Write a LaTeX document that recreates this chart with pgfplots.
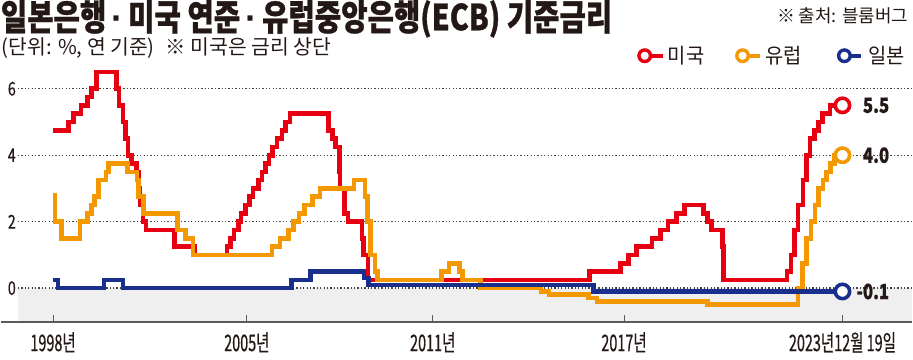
\documentclass[border=0pt]{standalone}
\usepackage{fontspec}
\usepackage{pgfplots}
\pgfplotsset{compat=1.18}
\setmainfont{Noto Sans CJK KR}
\newfontfamily\xfont[FakeStretch=0.63, FakeBold=0.5]{Noto Sans CJK KR}
\newfontfamily\yfont[FakeStretch=0.75, FakeBold=0.4]{Noto Sans CJK KR}
\newfontfamily\numfont[FakeStretch=0.8, BoldFeatures={FakeBold=0.6}]{Noto Sans CJK KR}
\newfontfamily\titlefont[FakeStretch=0.8, BoldFeatures={FakeBold=0.8}]{Noto Sans CJK KR}
\newfontfamily\legfont[FakeStretch=0.95]{Noto Sans CJK KR}
\newfontfamily\dotfont{Liberation Sans}
\definecolor{usred}{RGB}{230,0,18}
\definecolor{euorg}{RGB}{243,152,0}
\definecolor{jpblue}{RGB}{26,46,140}
\definecolor{txt}{RGB}{35,24,21}
\definecolor{bggray}{RGB}{239,239,239}
\definecolor{axgray}{RGB}{90,90,90}
\definecolor{gridc}{RGB}{70,70,70}
\newcommand{\tdot}{\hspace{5bp}{\dotfont\bfseries\symbol{"00B7}}\hspace{5bp}}
\begin{document}
\begin{tikzpicture}
\begin{axis}[
  set layers,
  at={(17.3bp,37.3bp)}, anchor=south west,
  scale only axis, width=895.7bp, height=253.6bp,
  xmin=1997.89, xmax=2026.18, ymin=-1.02, ymax=6.6,
  clip=false,
  axis line style={draw=none},
  xtick={1999,2005.13,2011.01,2017.06,2023.97},
  xticklabels={1998년,2005년,2011년,2017년,2023년12월 19일},
  ytick={0,2,4,6},
  yticklabels={0,2,4,6},
  xtick pos=bottom, ytick pos=left,
  tick align=inside, major tick length=7bp,
  xtick style={draw=axgray, line width=1bp},
  ytick style={draw=none},
  ymajorgrids,
  major grid style={draw=gridc, line width=1.3bp, dash pattern=on 1.3bp off 2.1bp},
  xticklabel style={font=\xfont\fontsize{23}{23}\selectfont, text=txt, inner sep=0pt, yshift=-10bp},
  yticklabel style={font=\yfont\fontsize{19}{19}\selectfont, text=txt, inner sep=0pt, xshift=-2bp},
  line join=miter,
]
\addplot[draw=none, fill=bggray, on layer=axis background] coordinates {(1997.89,-1.02) (2026.18,-1.02) (2026.18,0) (1997.89,0)} -- cycle;

% US Fed funds (upper bound)
\addplot[const plot, usred, line width=4.6bp] coordinates {
(1999.00,4.75) (1999.49,5.00) (1999.64,5.25) (1999.88,5.50) (2000.09,5.75)
(2000.22,6.00) (2000.37,6.50) (2001.01,6.00) (2001.08,5.50) (2001.21,5.00)
(2001.29,4.50) (2001.37,4.00) (2001.49,3.75) (2001.64,3.50) (2001.71,3.00)
(2001.75,2.50) (2001.85,2.00) (2001.94,1.75) (2002.85,1.25) (2003.48,1.00)
(2004.50,1.25) (2004.61,1.50) (2004.72,1.75) (2004.86,2.00) (2004.95,2.25)
(2005.09,2.50) (2005.22,2.75) (2005.33,3.00) (2005.50,3.25) (2005.61,3.50)
(2005.72,3.75) (2005.83,4.00) (2005.95,4.25) (2006.08,4.50) (2006.24,4.75)
(2006.36,5.00) (2006.49,5.25) (2007.71,4.75) (2007.83,4.50) (2007.94,4.25)
(2008.06,3.50) (2008.08,3.00) (2008.21,2.25) (2008.33,2.00) (2008.77,1.50)
(2008.82,1.00) (2008.96,0.25) (2015.96,0.50) (2016.95,0.75) (2017.20,1.00)
(2017.45,1.25) (2017.95,1.50) (2018.22,1.75) (2018.45,2.00) (2018.73,2.25)
(2018.97,2.50) (2019.58,2.25) (2019.71,2.00) (2019.83,1.75) (2020.17,1.25)
(2020.20,0.25) (2022.21,0.50) (2022.34,1.00) (2022.45,1.75) (2022.57,2.50)
(2022.72,3.25) (2022.84,4.00) (2022.95,4.50) (2023.09,4.75) (2023.22,5.00)
(2023.34,5.25) (2023.57,5.50) (2023.97,5.50)
};
% ECB deposit facility
\addplot[const plot, euorg, line width=4.6bp] coordinates {
(1999.00,2.80) (1999.06,2.00) (1999.27,1.50) (1999.85,2.00) (2000.09,2.25)
(2000.21,2.50) (2000.32,2.75) (2000.44,3.25) (2000.67,3.50) (2000.76,3.75)
(2001.36,3.50) (2001.66,3.25) (2001.71,2.75) (2001.86,2.25) (2002.93,1.75)
(2003.18,1.50) (2003.43,1.00) (2005.93,1.25) (2006.18,1.50) (2006.45,1.75)
(2006.61,2.00) (2006.78,2.25) (2006.95,2.50) (2007.20,2.75) (2007.45,3.00)
(2008.52,3.25) (2008.87,2.75) (2008.94,2.00) (2009.05,1.00) (2009.19,0.50)
(2009.27,0.25) (2011.28,0.50) (2011.53,0.75) (2011.86,0.50) (2011.95,0.25)
(2012.52,0.00) (2014.44,-0.10) (2014.69,-0.20) (2015.94,-0.30) (2016.21,-0.40)
(2019.71,-0.50) (2022.57,0.00) (2022.70,0.75) (2022.84,1.50) (2022.97,2.00)
(2023.10,2.50) (2023.22,3.00) (2023.36,3.25) (2023.47,3.50) (2023.59,3.75)
(2023.72,4.00) (2023.97,4.00)
};
% Bank of Japan
\addplot[const plot, jpblue, line width=4.6bp] coordinates {
(1999.00,0.25) (1999.15,0.00) (2000.61,0.25) (2001.21,0.00) (2006.54,0.25)
(2007.14,0.50) (2008.83,0.30) (2008.97,0.10) (2016.10,-0.10) (2023.97,-0.10)
};
% end markers
\addplot[only marks, mark=*, mark size=7.2bp, mark options={draw=usred, fill=white, line width=3.6bp}] coordinates {(2023.97,5.5)};
\addplot[only marks, mark=*, mark size=7.2bp, mark options={draw=euorg, fill=white, line width=3.6bp}] coordinates {(2023.97,4.0)};
\addplot[only marks, mark=*, mark size=7.2bp, mark options={draw=jpblue, fill=white, line width=3.6bp}] coordinates {(2023.97,-0.1)};
\node[anchor=east, inner sep=0pt, text=txt, xshift=47bp] at (axis cs:2023.97,5.5) {\numfont\bfseries\fontsize{21}{21}\selectfont 5.5};
\node[anchor=east, inner sep=0pt, text=txt, xshift=47bp] at (axis cs:2023.97,4.0) {\numfont\bfseries\fontsize{21}{21}\selectfont 4.0};
\node[anchor=east, inner sep=0pt, text=txt, xshift=47bp] at (axis cs:2023.97,-0.1) {\numfont\bfseries\fontsize{21}{21}\selectfont -0.1};
\end{axis}
% bottom axis line
\draw[axgray, line width=1.4bp] (0bp,37.3bp) -- (913bp,37.3bp);
% title and notes
\node[anchor=west, inner sep=0pt, text=txt] at (0bp,341bp) {\titlefont\bfseries\fontsize{36}{36}\selectfont 일본은행\tdot 미국 연준\tdot 유럽중앙은행(ECB) 기준금리};
\node[anchor=west, inner sep=0pt, text=txt] at (1bp,311.5bp) {\fontsize{20.5}{20.5}\selectfont (단위: \%, 연 기준)\hspace{11bp}※ 미국은 금리 상단};
\node[anchor=east, inner sep=0pt, text=txt] at (909bp,344.5bp) {\fontsize{18}{18}\selectfont ※ 출처: 블룸버그};
% legend
\draw[usred, line width=4bp] (649bp,304bp) -- (663bp,304bp);
\draw[usred, line width=3.4bp, fill=white] (645bp,304bp) circle (5.8bp);
\node[anchor=west, inner sep=0pt, text=txt] at (668bp,304bp) {\legfont\fontsize{21}{21}\selectfont 미국};
\draw[euorg, line width=4bp] (747bp,304bp) -- (760bp,304bp);
\draw[euorg, line width=3.4bp, fill=white] (743bp,304bp) circle (5.8bp);
\node[anchor=west, inner sep=0pt, text=txt] at (766bp,304bp) {\legfont\fontsize{21}{21}\selectfont 유럽};
\draw[jpblue, line width=4bp] (849bp,304bp) -- (862bp,304bp);
\draw[jpblue, line width=3.4bp, fill=white] (845bp,304bp) circle (5.8bp);
\node[anchor=west, inner sep=0pt, text=txt] at (869bp,304bp) {\legfont\fontsize{21}{21}\selectfont 일본};
\path (0bp,0bp) rectangle (913bp,359bp);
\end{tikzpicture}
\end{document}
